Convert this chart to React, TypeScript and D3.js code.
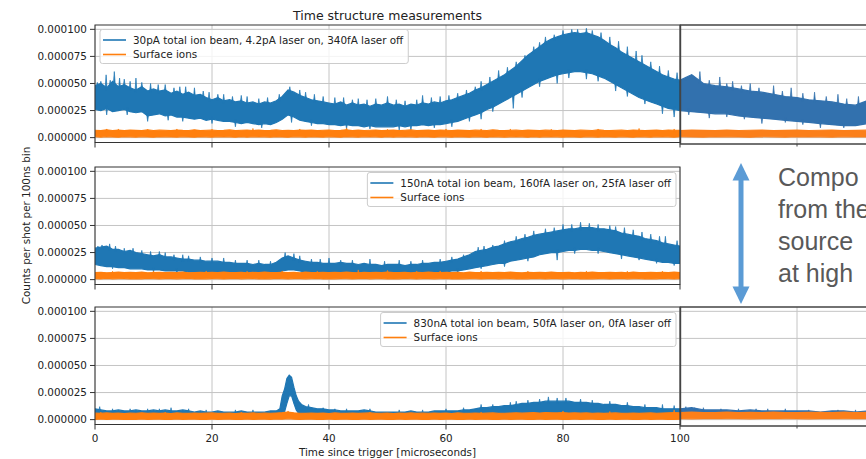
import React from "react";
import * as d3 from "d3";

// ---------- text ----------
const TITLE = "Time structure measurements";
const X_LABEL = "Time since trigger [microseconds]";
const Y_LABEL = "Counts per shot per 100ns bin";
const BEAM_LABELS = [
  "30pA total ion beam, 4.2pA laser on, 340fA laser off",
  "150nA total ion beam, 160fA laser on, 25fA laser off",
  "830nA total ion beam, 50fA laser on, 0fA laser off",
];
const SURFACE_LABEL = "Surface ions";
const SIDE_TEXT = ["Compo", "from the", "source", "at high"];

// ---------- axes ----------
const X_TICKS = [0, 20, 40, 60, 80, 100];
const Y_TICKS = [0, 25, 50, 75, 100]; // in units of 1e-6
const UNIT = 1e-6;

// time grids (microseconds)
const TIME_GRID = d3.range(0, 101);
const SNIP_TIME_GRID = d3.range(100, 134, 2);

// ---------- panel 1 (30pA) : band envelopes, units 1e-6 ----------
const p1BlueHi = [48, 50, 46, 52, 47, 49, 46, 44, 47, 43, 45,
  43, 44, 41, 43, 40, 42, 39, 40, 37, 35,
  37, 34, 35, 33, 34, 32, 33, 31, 33, 32,
  34, 38, 44, 42, 39, 37, 35, 34, 33, 32,
  31, 33, 30, 32, 30, 31, 29, 31, 30, 32,
  30, 31, 29, 31, 30, 32, 31, 33, 32, 34,
  35, 37, 39, 41, 44, 46, 49, 52, 55, 58,
  62, 66, 71, 76, 80, 84, 88, 91, 93, 95,
  96, 97, 96, 97, 95, 93, 90, 86, 83, 79,
  76, 73, 70, 67, 64, 61, 58, 56, 54, 53];
const p1BlueLo = [26, 25, 27, 24, 25, 26, 24, 23, 24, 20, 21,
  22, 20, 21, 19, 19, 18, 17, 18, 16, 17,
  16, 15, 15, 14, 13, 14, 13, 12, 13, 12,
  14, 17, 21, 19, 16, 15, 14, 13, 13, 12,
  12, 11, 12, 11, 11, 10, 11, 10, 10, 10,
  10, 11, 10, 11, 11, 12, 11, 12, 12, 13,
  14, 15, 17, 19, 21, 23, 26, 28, 31, 34,
  37, 40, 43, 46, 49, 52, 54, 56, 58, 59,
  60, 61, 61, 60, 59, 57, 55, 52, 49, 46,
  43, 40, 37, 35, 33, 31, 29, 27, 26, 25];
const p1BlueUp = [[0.4, 51], [1, 52], [1.9, 58], [2.6, 53], [3.3, 61], [4.2, 55], [5, 54], [6, 52], [7, 55], [8, 51], [9.5, 50], [10.8, 49], [12, 49], [13.5, 46], [14.5, 47], [15.5, 47], [17, 46], [18.5, 43], [19.5, 42], [21, 40], [22, 40], [23.5, 38], [25, 39], [26, 38], [28, 36], [29.5, 37], [31.5, 40], [33.3, 47], [35, 44], [36, 42], [37.5, 40], [39, 38], [41, 37], [42.5, 37], [44, 35], [45, 36], [46.5, 35], [48, 36], [50, 38], [51.5, 35], [53, 34], [55, 35], [56, 39], [57.5, 37], [59, 38], [60.5, 39], [62, 41], [63.5, 44], [65, 47], [66, 52], [67.5, 56], [69, 62], [70.5, 65], [72, 70], [73.5, 76], [75, 84], [76, 88], [77, 93], [78.5, 95], [80, 99], [81.5, 100], [82.5, 100], [84, 101], [85, 99], [86.5, 97], [88, 93], [89.5, 89], [91, 84], [92.5, 80], [93.5, 76], [95, 70], [96.5, 66], [98, 62], [99.5, 60]];
const p1BlueDown = [[2, 21], [5.5, 21], [9, 15], [12.5, 16], [15, 15], [20, 13], [24, 10], [28.5, 9], [33.6, 14], [37, 11], [43, 8], [47, 8], [52, 7], [54, 7], [58, 9], [61, 10], [64, 15], [66, 17], [68, 24], [71.5, 27], [73, 37], [76, 47], [79, 50], [81, 55], [84, 54], [86, 52], [89, 43], [91, 38], [94, 31], [97, 22], [99, 19]];
const p1OrangeHi = [6.8, 6.5, 7.2, 6.6, 6.9, 6.4, 7.0, 6.7, 6.5, 7.1,
  6.6, 6.9, 6.8, 6.4, 7.0, 6.7, 6.6, 7.2, 6.5, 6.8,
  6.9, 6.6, 6.7, 7.1, 6.5, 6.8, 7.0, 6.6, 6.9, 6.5,
  6.7, 7.1, 6.6, 6.8, 6.5, 7.0, 6.7, 6.9, 6.4, 6.8,
  7.0, 6.6, 6.7, 7.2, 6.5, 6.9, 6.6, 6.8, 7.0, 6.5,
  6.7, 6.9, 6.5, 6.8, 7.1, 6.6, 6.7, 6.9, 6.5, 7.0,
  6.8, 6.6, 7.0, 6.7, 6.5, 6.9, 6.8, 6.6, 7.1, 6.7,
  6.5, 6.8, 6.9, 6.6, 7.0, 6.7, 6.5, 6.9, 6.8, 6.6,
  7.0, 6.7, 6.5, 6.9, 6.8, 6.6, 7.1, 6.7, 6.5, 6.8,
  6.9, 6.6, 7.0, 6.8, 6.5, 6.7, 6.9, 6.6, 7.0, 6.8, 6.7];
const p1OrangeLo = [0.8, 0.5, 1.0, 0.6, 0.4, 0.9, 0.7, 0.5, 0.8, 0.6,
  0.4, 0.9, 0.7, 0.6, 0.5, 0.8, 0.6, 0.4, 0.9, 0.7,
  0.5, 0.8, 0.6, 0.7, 0.4, 0.9, 0.5, 0.8, 0.6, 0.7,
  0.5, 0.9, 0.6, 0.4, 0.8, 0.7, 0.5, 0.9, 0.6, 0.5,
  0.8, 0.6, 0.4, 0.9, 0.7, 0.5, 0.8, 0.6, 0.7, 0.4,
  0.9, 0.5, 0.8, 0.6, 0.7, 0.5, 0.9, 0.6, 0.4, 0.8,
  0.7, 0.5, 0.9, 0.6, 0.5, 0.8, 0.6, 0.4, 0.9, 0.7,
  0.5, 0.8, 0.6, 0.7, 0.4, 0.9, 0.5, 0.8, 0.6, 0.7,
  0.5, 0.9, 0.6, 0.4, 0.8, 0.7, 0.5, 0.9, 0.6, 0.5,
  0.8, 0.6, 0.4, 0.9, 0.7, 0.5, 0.8, 0.6, 0.7, 0.4, 0.8];
const p1OrangeUp = [[2, 8], [4, 8], [9, 7.8], [14, 8], [20, 7.8], [27, 8.5], [35, 8], [43, 9], [50, 7.8], [60, 8], [66, 8], [71, 8], [78, 7.8], [86, 8], [93, 8.5], [99, 8]];
// right-hand continuation (100..132 us)
const p1SnipBlueHi = [53, 58, 50, 48, 47, 45, 43, 42, 40, 38, 37, 35, 34, 33, 31, 30, 34];
const p1SnipBlueLo = [25, 24, 23, 22, 22, 20, 19, 18, 17, 16, 15, 14, 13, 12, 11, 11, 13];
const p1SnipBlueUp = [[101, 56], [102.3, 57], [103.4, 61], [105, 53], [106.8, 56], [108, 50], [109, 52], [110.5, 48], [112, 50], [113.5, 46], [116, 48], [117.5, 43], [119, 46], [121, 41], [123, 42], [125, 38], [127, 40], [128.5, 36], [130.5, 38]];
const p1SnipBlueDown = [[101.5, 21], [105, 18], [108, 19], [111, 17], [114, 13], [118, 14], [121, 12], [124, 9], [128, 9]];
const p1SnipOrangeHi = [6.6, 7.0, 6.7, 6.5, 6.9, 6.6, 6.8, 7.0, 6.5, 6.7, 6.9, 6.6, 6.8, 7.0, 6.5, 6.7, 6.9];
const p1SnipOrangeLo = [0.8, 0.6, 0.5, 0.9, 0.7, 0.6, 0.4, 0.8, 0.7, 0.5, 0.9, 0.6, 0.7, 0.5, 0.8, 0.6, 0.7];

// ---------- panel 2 (150nA) ----------
const p2BlueHi = [29, 30, 31, 28, 28, 26, 27, 25, 24, 23, 22,
  23, 21, 21, 20, 19, 19, 18, 18, 17, 17,
  17, 16, 16, 15, 15, 15, 14, 15, 14, 14,
  16, 20, 22, 20, 18, 17, 16, 16, 15, 15,
  15, 16, 15, 15, 14, 15, 14, 14, 13, 14,
  14, 14, 13, 14, 14, 15, 15, 16, 16, 17,
  18, 19, 21, 23, 26, 27, 28, 30, 31, 33,
  35, 36, 38, 39, 41, 42, 43, 44, 45, 46,
  47, 47, 48, 48, 48, 47, 47, 46, 45, 43,
  42, 41, 40, 38, 37, 36, 34, 33, 32, 31];
const p2BlueLo = [14, 13, 12, 12, 11, 11, 10, 10, 10, 9, 9,
  9, 8, 8, 8, 8, 7, 7, 7, 7, 7,
  6, 6, 6, 6, 6, 6, 5, 5, 5, 5,
  6, 8, 9, 9, 8, 7, 7, 6, 6, 6,
  6, 6, 6, 5, 6, 5, 5, 5, 5, 5,
  5, 5, 5, 6, 5, 6, 6, 6, 7, 7,
  8, 8, 9, 10, 11, 12, 13, 14, 15, 15,
  17, 18, 19, 20, 21, 23, 24, 25, 25, 26,
  27, 27, 28, 28, 27, 27, 26, 25, 24, 23,
  22, 21, 20, 19, 18, 17, 16, 16, 15, 15];
const p2BlueUp = [[0.5, 31], [1.2, 32], [2.5, 33], [3.5, 31], [5, 29], [6.5, 29], [8, 27], [9.5, 26], [11, 26], [12, 25], [13.5, 23], [15, 23], [16, 22], [18, 21], [20, 20], [22, 20], [24, 18], [26, 18], [28, 18], [30, 17], [32.5, 25], [34, 24], [35, 22], [37, 19], [38.5, 19], [40, 20], [42, 18], [44, 18], [47, 19], [49.5, 17], [52, 18], [54, 17], [56, 18], [59, 19], [61, 21], [63, 23], [65.5, 30], [66.5, 31], [68, 32], [70, 36], [72, 40], [73.5, 42], [75, 45], [77, 47], [78.5, 48], [80, 51], [81.5, 51], [83, 53], [84.5, 52], [86, 51], [88, 50], [89, 49], [90.5, 48], [92, 46], [93.5, 44], [95, 42], [96.5, 40], [97.5, 40], [99.5, 36]];
const p2BlueDown = [[3, 10], [10, 7], [14, 6], [62, 6], [66, 10], [70, 12], [74, 17], [79, 18], [82, 24], [86, 24], [90, 19], [93, 18], [96, 15], [99, 13]];
const p2OrangeHi = [6.5, 6.8, 6.3, 6.6, 7.0, 6.4, 6.7, 6.5, 6.9, 6.3,
  6.6, 6.8, 6.4, 6.7, 6.5, 6.9, 6.3, 6.6, 6.8, 6.5,
  6.7, 6.4, 6.9, 6.5, 6.6, 6.8, 6.3, 6.7, 6.5, 6.9,
  6.4, 6.6, 6.8, 6.5, 6.7, 6.3, 6.9, 6.6, 6.5, 6.8,
  6.4, 6.7, 6.5, 6.9, 6.6, 6.3, 6.8, 6.5, 6.7, 6.4,
  6.9, 6.6, 6.5, 6.8, 6.3, 6.7, 6.5, 6.9, 6.4, 6.6,
  6.8, 6.5, 6.7, 6.3, 6.9, 6.6, 6.5, 6.8, 6.4, 6.7,
  6.5, 6.9, 6.6, 6.3, 6.8, 6.5, 6.7, 6.4, 6.9, 6.6,
  6.5, 6.8, 6.3, 6.7, 6.5, 6.9, 6.4, 6.6, 6.8, 6.5,
  6.7, 6.3, 6.9, 6.6, 6.5, 6.8, 6.4, 6.7, 6.5, 6.9, 6.6];
const p2OrangeLo = [0.9, 0.6, 1.1, 0.7, 0.8, 1.0, 0.6, 0.9, 0.7, 1.1,
  0.8, 0.6, 1.0, 0.9, 0.7, 0.8, 1.1, 0.6, 0.9, 0.7,
  1.0, 0.8, 0.6, 0.9, 1.1, 0.7, 0.8, 1.0, 0.6, 0.9,
  0.7, 1.1, 0.8, 0.6, 1.0, 0.9, 0.7, 0.8, 1.1, 0.6,
  0.9, 0.7, 1.0, 0.8, 0.6, 0.9, 1.1, 0.7, 0.8, 1.0,
  0.6, 0.9, 0.7, 1.1, 0.8, 0.6, 1.0, 0.9, 0.7, 0.8,
  1.1, 0.6, 0.9, 0.7, 1.0, 0.8, 0.6, 0.9, 1.1, 0.7,
  0.8, 1.0, 0.6, 0.9, 0.7, 1.1, 0.8, 0.6, 1.0, 0.9,
  0.7, 0.8, 1.1, 0.6, 0.9, 0.7, 1.0, 0.8, 0.6, 0.9,
  1.1, 0.7, 0.8, 1.0, 0.6, 0.9, 0.7, 1.1, 0.8, 0.6, 1.0];
const p2OrangeUp = [[3, 7.8], [10, 8], [19, 8], [26, 7.8], [32, 8], [38, 7.8], [45, 9], [50, 8.5], [55, 7.8], [59, 8], [66, 8], [74, 7.8], [84, 8], [91, 7.8], [97, 7.8]];

// ---------- panel 3 (830nA) ----------
const p3BlueTimes = [...d3.range(0, 32), 31.6, 32, 32.4, 32.8, 33.2, 33.6, 34, 34.4, 34.8, 35.3, ...d3.range(36, 101)];
const p3BlueHi = [10, 9, 8, 8, 9, 8, 8, 9, 8, 8, 9, 8, 9, 8, 8, 9, 8, 7, 8, 7, 7, 8, 7, 7, 7, 8, 7, 7, 7, 7, 8, 8,
  10, 22, 28, 38, 41, 39, 30, 22, 17, 14,
  12, 11, 10, 10, 9, 9, 8, 8, 8, 8,
  9, 8, 7, 7, 7, 7, 7, 7, 8, 7,
  7, 7, 8, 8, 8, 8, 8, 9, 9, 10,
  11, 11, 12, 12, 13, 13, 14, 15, 15, 16,
  16, 17, 17, 17, 17, 17, 16, 16, 16, 15,
  15, 14, 14, 14, 13, 13, 12, 12, 11, 11,
  11, 10, 10, 10, 10];
const p3BlueLo = [3, 3, 2, 3, 3, 2, 3, 3, 3, 2, 3, 3, 2, 3, 3, 3, 2, 3, 3, 3, 2, 3, 3, 2, 3, 3, 3, 2, 3, 3, 3, 3,
  3, 5, 7, 15, 22, 22, 15, 9, 6, 5,
  4, 3, 3, 3, 3, 3, 3, 3, 3, 3,
  3, 3, 3, 3, 3, 3, 3, 3, 3, 3,
  3, 3, 3, 3, 3, 3, 3, 3, 3, 4,
  4, 4, 4, 5, 5, 5, 5, 6, 6, 6,
  6, 6, 6, 6, 6, 6, 6, 6, 6, 6,
  5, 5, 5, 5, 5, 5, 4, 4, 4, 4,
  4, 4, 4, 3, 3];
const p3BlueUp = [[0.8, 12], [3, 10], [6, 10], [9, 10], [11, 10], [13, 11], [16, 10], [19, 9], [24, 9], [27, 9], [36.5, 14], [39, 11], [41, 10], [43, 10], [47, 10], [52, 9], [56, 9], [60, 10], [63, 11], [66, 14], [68, 14], [71, 16], [72, 17], [74, 18], [76, 19], [77.5, 21], [79, 20], [80.5, 20], [83, 19], [85, 18], [88, 17], [91, 16], [94, 14], [97, 14], [99, 13]];
const p3BlueDown = [];
const p3OrangeHi = [6.0, 5.7, 6.2, 5.8, 6.1, 5.6, 6.0, 5.9, 6.3, 5.7,
  6.1, 5.8, 6.0, 5.6, 6.2, 5.9, 5.7, 6.1, 5.8, 6.0,
  6.2, 5.7, 5.9, 6.1, 5.6, 6.0, 5.8, 6.2, 5.7, 6.0,
  5.9, 6.1, 6.4, 7.0, 6.3, 5.9, 5.7, 6.1, 5.8, 6.0,
  5.6, 6.2, 5.9, 5.7, 6.1, 5.8, 6.0, 6.2, 5.7, 5.9,
  6.1, 5.6, 6.0, 5.8, 6.2, 5.7, 6.0, 5.9, 6.1, 5.8,
  6.0, 5.6, 6.2, 5.9, 5.7, 6.1, 5.8, 6.0, 6.2, 5.7,
  5.9, 6.1, 6.3, 6.0, 6.2, 6.4, 6.1, 6.5, 6.3, 6.2,
  6.4, 6.1, 6.3, 6.0, 6.2, 5.9, 6.1, 5.8, 6.0, 6.2,
  5.7, 5.9, 6.1, 5.8, 6.0, 6.2, 5.9, 6.1, 6.3, 6.5, 6.2];
const p3OrangeLo = [0.3, 0.6, 0.2, 0.5, 0.4, 0.1, 0.5, 0.3, 0.6, 0.2,
  0.4, 0.5, 0.1, 0.3, 0.6, 0.2, 0.4, 0.5, 0.3, 0.1,
  0.6, 0.2, 0.4, 0.5, 0.3, 0.1, 0.6, 0.2, 0.4, 0.5,
  0.3, 0.6, 0.4, 0.8, 0.5, 0.2, 0.4, 0.5, 0.3, 0.1,
  0.6, 0.2, 0.4, 0.5, 0.3, 0.1, 0.6, 0.2, 0.4, 0.5,
  0.3, 0.1, 0.6, 0.2, 0.4, 0.5, 0.3, 0.1, 0.6, 0.2,
  0.4, 0.5, 0.3, 0.1, 0.6, 0.2, 0.4, 0.5, 0.3, 0.1,
  0.6, 0.2, 0.4, 0.5, 0.3, 0.1, 0.6, 0.2, 0.4, 0.5,
  0.3, 0.1, 0.6, 0.2, 0.4, 0.5, 0.3, 0.1, 0.6, 0.2,
  0.4, 0.5, 0.3, 0.1, 0.6, 0.2, 0.4, 0.5, 0.3, 0.1, 0.4];
const p3OrangeUp = [[1, 7], [12, 7], [25, 7], [33, 8], [47, 7], [66, 7], [80, 8], [88, 7.5], [99, 9]];
const p3SnipBlueHi = [10, 11, 9, 9, 9, 8, 9, 8, 8, 8, 8, 8, 7, 8, 8, 7, 8];
const p3SnipBlueLo = [3, 3, 3, 3, 3, 3, 3, 3, 3, 3, 3, 3, 3, 3, 3, 3, 3];
const p3SnipBlueUp = [[101, 12], [102.5, 11], [104, 11], [107, 10], [110, 10], [113, 10], [115, 10], [118, 10], [122, 9], [127, 9], [130, 9]];
const p3SnipOrangeHi = [6.5, 7.0, 6.6, 6.4, 6.9, 6.6, 6.8, 6.5, 6.9, 6.6, 6.4, 6.8, 6.7, 6.5, 6.9, 6.6, 6.8];
const p3SnipOrangeLo = [1.0, 0.7, 0.9, 1.1, 0.8, 1.0, 0.7, 0.9, 1.1, 0.8, 1.0, 0.7, 0.9, 1.1, 0.8, 1.0, 0.9];

// ---------- styling / layout ----------
const W = 866;
const H = 459;
const FONT = "'DejaVu Sans', sans-serif";
const FS = 10.4;
const BLUE = "#1f77b4";
const ORANGE = "#ff7f0e";
const SNIP_BLUE = "#3271ae";
const SNIP_ORANGE = "#fb7f1a";
const GRID = "#c4c4c4";
const PANEL_TOPS = [25, 167, 307];
const PANEL_H = 117.5;
const X_LEFT = 95;
const X_RIGHT = 680;

const x = d3.scaleLinear().domain([0, 100]).range([X_LEFT, X_RIGHT]);
const yFor = (top: number) => d3.scaleLinear().domain([-4.5, 104]).range([top + PANEL_H, top]);

let ctx: CanvasRenderingContext2D | null = null;
function measure(s: string, font: string) {
  if (!ctx) ctx = document.createElement("canvas").getContext("2d");
  if (!ctx) return s.length * 5.5;
  ctx.font = font;
  return ctx.measureText(s).width;
}

type Pt = [number, number, number];

function Band(props: any) {
  const { times, lo, hi, color, y, up = [], down = [] } = props;
  const n = Math.min(times.length, lo.length, hi.length);
  const pts: Pt[] = d3.range(n).map((i) => [times[i], lo[i], hi[i]] as Pt);
  const area = d3.area<Pt>().x((d) => x(d[0])).y0((d) => y(d[1])).y1((d) => y(d[2]));
  const hiL = d3.line<Pt>().x((d) => x(d[0])).y((d) => y(d[2]));
  const loL = d3.line<Pt>().x((d) => x(d[0])).y((d) => y(d[1]));
  const ts = pts.map((p) => p[0]);
  const interp = (t: number, k: number) => {
    let i = d3.bisectRight(ts, t) - 1;
    i = Math.max(0, Math.min(n - 2, i));
    const f = (t - pts[i][0]) / (pts[i + 1][0] - pts[i][0]);
    return pts[i][k] + f * (pts[i + 1][k] - pts[i][k]);
  };
  const spike = (t: number, v: number, k: number) => {
    const b = interp(t, k) + (k === 2 ? -2 : 2);
    const px = x(t);
    return `M${px - 1},${y(b)}L${px},${y(v)}L${px + 1},${y(b)}Z`;
  };
  return (
    <g>
      <path d={area(pts) || ""} fill={color} />
      <path d={hiL(pts) || ""} fill="none" stroke={color} strokeWidth={1.2} />
      <path d={loL(pts) || ""} fill="none" stroke={color} strokeWidth={1.2} />
      {up.map((s: number[], i: number) => (
        <path key={"u" + i} d={spike(s[0], s[1], 2)} fill={color} stroke={color} strokeWidth={0.7} />
      ))}
      {down.map((s: number[], i: number) => (
        <path key={"d" + i} d={spike(s[0], s[1], 1)} fill={color} stroke={color} strokeWidth={0.7} />
      ))}
    </g>
  );
}

function Legend({ left, right, top, label }: any) {
  const font = `${FS}px 'DejaVu Sans'`;
  const tw = Math.max(measure(label, font), measure(SURFACE_LABEL, font));
  const w = 33 + tw + 5;
  const lx = left !== undefined ? left : right - w;
  const r1 = top + 10.5;
  const r2 = top + 25;
  return (
    <g>
      <rect x={lx} y={top} width={w} height={34} rx={2.5} fill="#fff" fillOpacity={0.8} stroke="#cccccc" strokeWidth={1} />
      <line x1={lx + 3} x2={lx + 26} y1={r1} y2={r1} stroke={BLUE} strokeWidth={1.6} />
      <text x={lx + 33} y={r1} dy="0.35em" fontFamily={FONT} fontSize={FS} fill="#222">{label}</text>
      <line x1={lx + 3} x2={lx + 26} y1={r2} y2={r2} stroke={ORANGE} strokeWidth={1.6} />
      <text x={lx + 33} y={r2} dy="0.35em" fontFamily={FONT} fontSize={FS} fill="#222">{SURFACE_LABEL}</text>
    </g>
  );
}

const PANELS = [
  { blue: [TIME_GRID, p1BlueLo, p1BlueHi, p1BlueUp, p1BlueDown], orange: [TIME_GRID, p1OrangeLo, p1OrangeHi, p1OrangeUp], legend: "left",
    snip: { blue: [SNIP_TIME_GRID, p1SnipBlueLo, p1SnipBlueHi, p1SnipBlueUp, p1SnipBlueDown], orange: [SNIP_TIME_GRID, p1SnipOrangeLo, p1SnipOrangeHi] } },
  { blue: [TIME_GRID, p2BlueLo, p2BlueHi, p2BlueUp, p2BlueDown], orange: [TIME_GRID, p2OrangeLo, p2OrangeHi, p2OrangeUp], legend: "right", snip: null },
  { blue: [p3BlueTimes, p3BlueLo, p3BlueHi, p3BlueUp, p3BlueDown], orange: [TIME_GRID, p3OrangeLo, p3OrangeHi, p3OrangeUp], legend: "right",
    snip: { blue: [SNIP_TIME_GRID, p3SnipBlueLo, p3SnipBlueHi, p3SnipBlueUp, []], orange: [SNIP_TIME_GRID, p3SnipOrangeLo, p3SnipOrangeHi] } },
];

export default function App() {
  const fmt = d3.format(".6f");
  return (
    <svg width={W} height={H} style={{ position: "absolute", left: 0, top: 0, background: "#fff" }} fontFamily={FONT}>
      <defs>
        {PANEL_TOPS.map((t, i) => (
          <clipPath id={"clip" + i} key={i}>
            <rect x={X_LEFT} y={t} width={X_RIGHT - X_LEFT} height={PANEL_H} />
          </clipPath>
        ))}
        {PANEL_TOPS.map((t, i) => (
          <clipPath id={"snip" + i} key={"s" + i}>
            <rect x={X_RIGHT} y={t} width={W - X_RIGHT + 10} height={PANEL_H + 1.5} />
          </clipPath>
        ))}
      </defs>
      <rect x={0} y={0} width={W} height={H} fill="#fff" />
      <text x={(X_LEFT + X_RIGHT) / 2} y={20} textAnchor="middle" fontSize={12.5} fill="#222">{TITLE}</text>

      {PANELS.map((p, i) => {
        const top = PANEL_TOPS[i];
        const y = yFor(top);
        const bottom = top + PANEL_H;
        return (
          <g key={i}>
            {Y_TICKS.map((v) => (
              <line key={"gy" + v} x1={X_LEFT} x2={X_RIGHT} y1={y(v)} y2={y(v)} stroke={GRID} strokeWidth={1} />
            ))}
            {X_TICKS.map((v) => (
              <line key={"gx" + v} x1={x(v)} x2={x(v)} y1={top} y2={bottom} stroke={GRID} strokeWidth={1} />
            ))}
            <g clipPath={`url(#clip${i})`}>
              <Band times={p.blue[0]} lo={p.blue[1]} hi={p.blue[2]} up={p.blue[3]} down={p.blue[4]} color={BLUE} y={y} />
              <Band times={p.orange[0]} lo={p.orange[1]} hi={p.orange[2]} up={p.orange[3]} color={ORANGE} y={y} />
            </g>
            <rect x={X_LEFT} y={top} width={X_RIGHT - X_LEFT} height={PANEL_H} fill="none" stroke="#333" strokeWidth={1} />
            {Y_TICKS.map((v) => (
              <g key={"ty" + v}>
                <line x1={X_LEFT - 5} x2={X_LEFT} y1={y(v)} y2={y(v)} stroke="#333" strokeWidth={1} />
                <text x={X_LEFT - 8} y={y(v)} dy="0.35em" textAnchor="end" fontSize={FS} fill="#222">{fmt(v * UNIT)}</text>
              </g>
            ))}
            {X_TICKS.map((v) => (
              <g key={"tx" + v}>
                <line x1={x(v)} x2={x(v)} y1={bottom} y2={bottom + 5} stroke="#333" strokeWidth={1} />
                {i === 2 && (
                  <text x={x(v)} y={bottom + 17} textAnchor="middle" fontSize={FS} fill="#222">{v}</text>
                )}
              </g>
            ))}
            {p.legend === "left" ? (
              <Legend left={X_LEFT + 5} top={top + 4.5} label={BEAM_LABELS[i]} />
            ) : (
              <Legend right={X_RIGHT - 4} top={top + 5.5} label={BEAM_LABELS[i]} />
            )}
            {p.snip && (
              <g>
                <rect x={X_RIGHT} y={top} width={W - X_RIGHT + 10} height={PANEL_H + 1.5} fill="#fff" />
                {Y_TICKS.map((v) => (
                  <line key={"sgy" + v} x1={X_RIGHT} x2={W} y1={y(v)} y2={y(v)} stroke={GRID} strokeWidth={1} />
                ))}
                <line x1={x(120)} x2={x(120)} y1={top} y2={bottom + 1.5} stroke={GRID} strokeWidth={1} />
                <g clipPath={`url(#snip${i})`}>
                  <Band times={p.snip.blue[0]} lo={p.snip.blue[1]} hi={p.snip.blue[2]} up={p.snip.blue[3]} down={p.snip.blue[4]} color={SNIP_BLUE} y={y} />
                  <Band times={p.snip.orange[0]} lo={p.snip.orange[1]} hi={p.snip.orange[2]} color={SNIP_ORANGE} y={y} />
                </g>
                <path d={`M${W + 5},${top}H${X_RIGHT + 0.5}V${bottom + 1.5}H${W + 5}`} fill="none" stroke="#444" strokeWidth={1.4} />
                <line x1={x(120)} x2={x(120)} y1={bottom + 1.5} y2={bottom + 4} stroke="#444" strokeWidth={1} />
              </g>
            )}
          </g>
        );
      })}

      <text x={(X_LEFT + X_RIGHT) / 2} y={456} textAnchor="middle" fontSize={FS} fill="#222">{X_LABEL}</text>
      <text transform="translate(30,225.5) rotate(-90)" textAnchor="middle" fontSize={FS} fill="#222">{Y_LABEL}</text>

      {/* annotation arrow */}
      <g fill="#5b9bd5">
        <rect x={738.5} y={178} width={5} height={111} />
        <path d="M741,163L732.5,180.5L749.5,180.5Z" />
        <path d="M741,304L732.5,286.5L749.5,286.5Z" />
      </g>
      {SIDE_TEXT.map((s, i) => (
        <text key={i} x={778} y={186 + i * 32} fontFamily="'Liberation Sans', Arial, sans-serif" fontSize={25} fill="#595959">{s}</text>
      ))}
    </svg>
  );
}
